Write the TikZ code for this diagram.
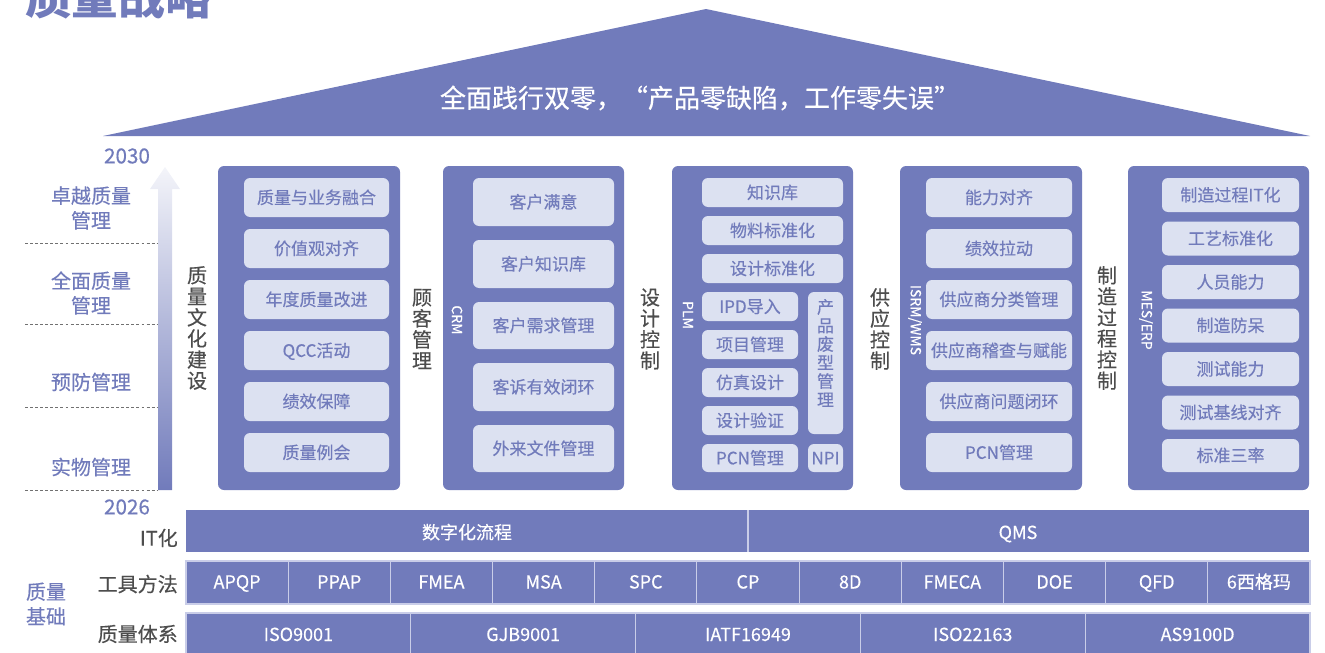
\documentclass[tikz,border=0pt]{standalone}
\usepackage{fontspec}
\setmainfont{Noto Sans CJK SC}
\newfontfamily\medfont[FakeBold=0.4]{Noto Sans CJK SC}
\definecolor{mainc}{HTML}{717BBB}
\definecolor{itemc}{HTML}{DCE1F1}
\definecolor{darkt}{HTML}{4D4D4D}
\definecolor{linec}{HTML}{C9CDE8}
\newcommand\ibox[6]{\node[item, minimum width={(#4-#2)*0.75pt}, minimum height={(#5-#3)*0.75pt}] (#1) at ({(#2+#4)/2},{(#3+#5)/2}) {#6};}
\begin{document}
\begin{tikzpicture}[x=0.75pt,y=-0.75pt,
  pane/.style={fill=mainc, rounded corners=4.5pt},
  item/.style={fill=itemc, rounded corners=4.5pt, inner sep=0pt, text=mainc, text height=0.95em, text depth=0pt, font=\medfont\fontsize{12.75}{14}\selectfont},
  collab/.style={text=darkt, align=center, inner sep=0pt, font=\medfont\fontsize{15}{15.8}\selectfont},
  sublab/.style={text=white, rotate=-90, inner sep=0pt, font=\medfont\fontsize{10.5}{12}\selectfont},
  lvl/.style={text=mainc, align=center, inner sep=0pt, font=\medfont\fontsize{15}{18.5}\selectfont},
  rowlab/.style={text=darkt, anchor=east, inner sep=0pt, font=\medfont\fontsize{15}{18}\selectfont},
  wtxt/.style={text=white, inner sep=0pt, text height=0.9em, text depth=0pt, font=\medfont\fontsize{13.5}{15}\selectfont},
  cell/.style={wtxt, fill=mainc, draw=linec, line width=0.8pt},
  dline/.style={draw=darkt!80, line width=0.7pt, dash pattern=on 2.2pt off 1.6pt}]
\useasboundingbox (0,0) rectangle (1325,653);
% title
\node[text=mainc, font=\fontsize{35}{40}\selectfont\bfseries, anchor=west, inner sep=0pt] (title) at (25,-3) {质量战略};
% roof
\fill[mainc] (103,136) -- (706,9) -- (1310,136) -- cycle;
\node[text=white, font=\medfont\fontsize{19.5}{22}\selectfont, inner sep=0pt] (roof) at (700,98) {全面践行双零，“产品零缺陷，工作零失误”};
% years
\node[text=mainc, font=\medfont\fontsize{15.5}{18}\selectfont, inner sep=0pt] (y2030) at (127,156) {2030};
\node[text=mainc, font=\medfont\fontsize{15.5}{18}\selectfont, inner sep=0pt] (y2026) at (127,507) {2026};
% gradient arrow
\shade[top color=mainc!8, bottom color=mainc, middle color=mainc!55]
  (158,490) -- (158,189) -- (150,189) -- (165,167) -- (180,189) -- (172,189) -- (172,490) -- cycle;
% dashed lines
\coordinate (d1a) at (25,243); \coordinate (d1b) at (158,243);
\coordinate (d2a) at (25,324); \coordinate (d2b) at (158,324);
\coordinate (d3a) at (25,407); \coordinate (d3b) at (158,407);
\coordinate (d4a) at (25,490); \coordinate (d4b) at (158,490);
\draw[dline] (d1a) -- (d1b);
\draw[dline] (d2a) -- (d2b);
\draw[dline] (d3a) -- (d3b);
\draw[dline] (d4a) -- (d4b);
% level labels
\node[lvl] (l1) at (91,208) {卓越质量\\管理};
\node[lvl] (l2) at (91,293) {全面质量\\管理};
\node[lvl] (l3) at (91,382) {预防管理};
\node[lvl] (l4) at (91,467) {实物管理};
% column panes
\fill[pane] (218,166) rectangle (400,490);
\fill[pane] (443,166) rectangle (624,490);
\fill[pane] (672,166) rectangle (853,490);
\fill[pane] (900,166) rectangle (1082,490);
\fill[pane] (1128,166) rectangle (1309,490);
% column labels
\node[collab] (c1) at (197,328) {质\\量\\文\\化\\建\\设};
\node[collab] (c2) at (422,329) {顾\\客\\管\\理};
\node[collab] (c3) at (650,329) {设\\计\\控\\制};
\node[collab] (c4) at (880,329) {供\\应\\控\\制};
\node[collab] (c5) at (1107,328) {制\\造\\过\\程\\控\\制};
\node[sublab] (s2) at (457,320) {CRM};
\node[sublab] (s3) at (688,315) {PLM};
\node[sublab] (s4) at (915,320) {ISRM/WMS};
\node[sublab] (s5) at (1146,320) {MES/ERP};
% column 1
\ibox{a1}{244}{178}{389}{217}{质量与业务融合}
\ibox{a2}{244}{229}{389}{268}{价值观对齐}
\ibox{a3}{244}{280}{389}{319}{年度质量改进}
\ibox{a4}{244}{331}{389}{370}{QCC活动}
\ibox{a5}{244}{382}{389}{421}{绩效保障}
\ibox{a6}{244}{433}{389}{472}{质量例会}
% column 2
\ibox{b1}{473}{178}{614}{226}{客户满意}
\ibox{b2}{473}{240}{614}{288}{客户知识库}
\ibox{b3}{473}{302}{614}{349}{客户需求管理}
\ibox{b4}{473}{363}{614}{411}{客诉有效闭环}
\ibox{b5}{473}{425}{614}{472}{外来文件管理}
% column 3
\ibox{p1}{702}{178}{843}{207}{知识库}
\ibox{p2}{702}{216}{843}{245}{物料标准化}
\ibox{p3}{702}{254}{843}{283}{设计标准化}
\ibox{p4}{702}{292}{798}{321}{IPD导入}
\ibox{p5}{702}{330}{798}{359}{项目管理}
\ibox{p6}{702}{368}{798}{397}{仿真设计}
\ibox{p7}{702}{406}{798}{435}{设计验证}
\ibox{p8}{702}{444}{798}{472}{PCN管理}
\fill[itemc, rounded corners=4.5pt] (808,292) rectangle (843,434);
\node[text=mainc, align=center, inner sep=0pt, font=\medfont\fontsize{12.75}{13.9}\selectfont] (p9) at (825.5,353) {产\\品\\废\\型\\管\\理};
\ibox{p10}{808}{444}{843}{472}{NPI}
% column 4
\ibox{g1}{926}{178}{1072}{217}{能力对齐}
\ibox{g2}{926}{229}{1072}{268}{绩效拉动}
\ibox{g3}{926}{280}{1072}{319}{供应商分类管理}
\ibox{g4}{926}{331}{1072}{370}{供应商稽查与赋能}
\ibox{g5}{926}{382}{1072}{421}{供应商问题闭环}
\ibox{g6}{926}{433}{1072}{472}{PCN管理}
% column 5
\ibox{m1}{1162}{178}{1299}{212}{制造过程IT化}
\ibox{m2}{1162}{221.5}{1299}{255.5}{工艺标准化}
\ibox{m3}{1162}{265}{1299}{299}{人员能力}
\ibox{m4}{1162}{308.5}{1299}{342.5}{制造防呆}
\ibox{m5}{1162}{352}{1299}{386}{测试能力}
\ibox{m6}{1162}{395.5}{1299}{429.5}{测试基线对齐}
\ibox{m7}{1162}{439}{1299}{472}{标准三率}
% bottom labels
\node[rowlab] (r1) at (178,538) {IT化};
\node[rowlab] (r2) at (178,584) {工具方法};
\node[rowlab] (r3) at (178,634) {质量体系};
\node[lvl] (base) at (46,604) {质量\\基础};
% IT row
\fill[mainc] (186,510) rectangle (1309,552);
\draw[linec, line width=0.8pt] (748,510) -- (748,552);
\node[wtxt] (it1) at (467,533) {数字化流程};
\node[wtxt] (it2) at (1018,533) {QMS};
% tools row
\foreach \t [count=\i from 0] in {APQP,PPAP,FMEA,MSA,SPC,CP,8D,FMECA,DOE,QFD,6西格玛}{
  \node[cell, minimum width={102.18*0.75pt}, minimum height={43*0.75pt}] (t\i) at ({186+(\i+0.5)*102.18},582.5) {\t};
}
% systems row
\foreach \t [count=\i from 0] in {ISO9001,GJB9001,IATF16949,ISO22163,AS9100D}{
  \node[cell, minimum width={224.8*0.75pt}, minimum height={44*0.75pt}] (q\i) at ({186+(\i+0.5)*224.8},635) {\t};
}
\end{tikzpicture}
\end{document}
